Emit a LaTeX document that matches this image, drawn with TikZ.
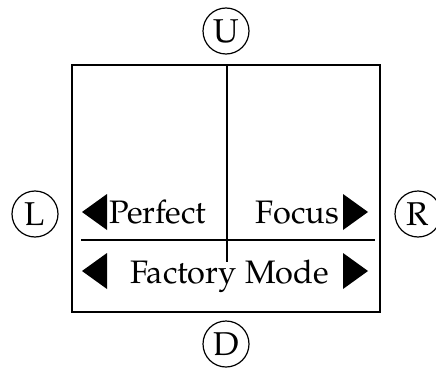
\documentclass[tikz,border=0pt]{standalone}
\usepackage{fontspec}
\setmainfont{texgyrepagella}[Extension=.otf,UprightFont=*-regular]
\begin{document}
\begin{tikzpicture}[x=1pt,y=-1pt,
  btn/.style={circle,draw,line width=1.2pt,minimum size=46pt,inner sep=0pt,font=\fontsize{33}{33}\selectfont},
  lbl/.style={inner sep=0pt,font=\fontsize{32.5}{33}\selectfont},
  arrowhead/.style={fill=black},
  frame/.style={draw,line width=1.8pt},
  divider/.style={line width=1.5pt}]
\useasboundingbox (0,0) rectangle (436,369);
\node[frame,rectangle,minimum width=308pt,minimum height=247pt,inner sep=0pt] (screen) at (226,188.5) {};
\coordinate (vtop) at (227,65);
\coordinate (vbot) at (227,262);
\coordinate (hl) at (81,240);
\coordinate (hr) at (375,240);
\draw[divider] (vtop) -- (vbot);
\draw[divider] (hl) -- (hr);
\node[btn] (U) at (226,31) {U};
\node[btn] (L) at (35,214) {L};
\node[btn] (R) at (418,214) {R};
\node[btn] (D) at (226,344) {D};
\node[lbl,anchor=base west] (perfect) at (109,223) {Perfect};
\node[lbl,anchor=base east] (focus) at (339,223) {Focus};
\node[lbl,anchor=base] (factory) at (229.5,283) {Factory Mode};
\fill[arrowhead] (82,212) -- (107,194) -- (107,230) -- cycle;
\fill[arrowhead] (368,212) -- (343,194) -- (343,230) -- cycle;
\fill[arrowhead] (82,271) -- (107,253) -- (107,289) -- cycle;
\fill[arrowhead] (368,271) -- (343,253) -- (343,289) -- cycle;
\end{tikzpicture}
\end{document}
